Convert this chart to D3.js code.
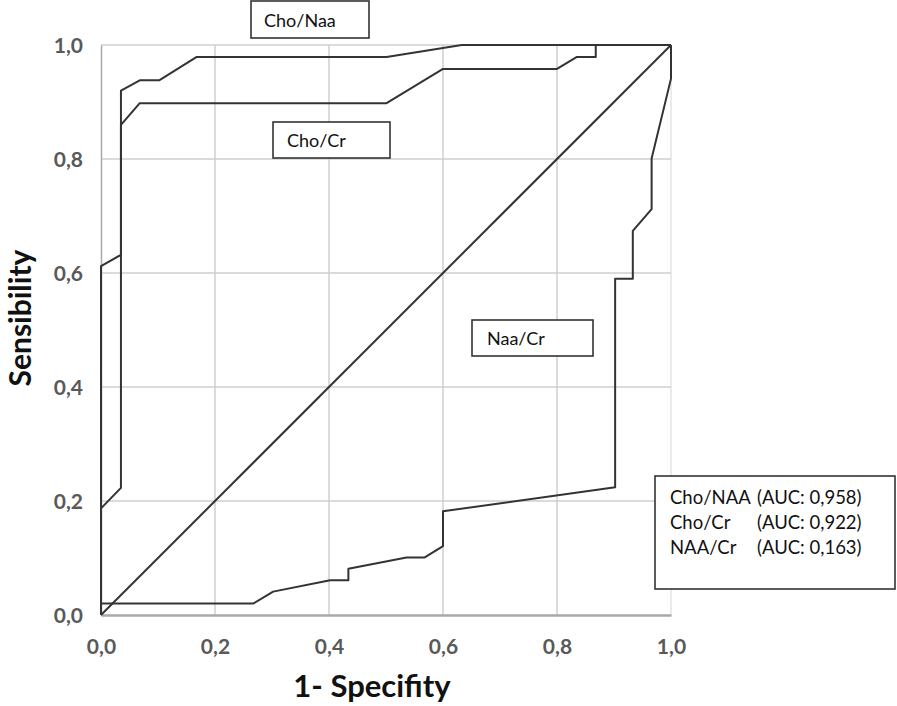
<!DOCTYPE html>
<html>
<head>
<meta charset="utf-8">
<script src="https://cdn.jsdelivr.net/npm/d3@7"></script>
<style>
  html, body { margin: 0; padding: 0; background: #fff; }
  svg { display: block; }
</style>
</head>
<body>
<svg id="chart" width="897" height="706"></svg>
<script>
// ---- Data ----
const xTicks = [0, 0.2, 0.4, 0.6, 0.8, 1.0];
const yTicks = [0, 0.2, 0.4, 0.6, 0.8, 1.0];
const tickLabels = ["0,0", "0,2", "0,4", "0,6", "0,8", "1,0"];

const choNaaX = [0, 0, 0.035, 0.035, 0.068, 0.102, 0.168, 0.501, 0.633, 1];
const choNaaY = [0, 0.612, 0.632, 0.92, 0.938, 0.938, 0.979, 0.979, 1, 1];

const choCrX = [0, 0, 0.035, 0.035, 0.068, 0.501, 0.6, 0.8, 0.835, 0.868, 0.868, 1];
const choCrY = [0, 0.187, 0.223, 0.86, 0.898, 0.898, 0.958, 0.958, 0.979, 0.979, 1, 1];

const naaCrX = [0, 0, 0.267, 0.302, 0.402, 0.434, 0.434, 0.536, 0.568, 0.6, 0.6, 0.902, 0.902, 0.933, 0.933, 0.966, 0.966, 1, 1];
const naaCrY = [0, 0.02, 0.02, 0.041, 0.061, 0.061, 0.081, 0.101, 0.101, 0.121, 0.182, 0.224, 0.59, 0.59, 0.674, 0.712, 0.801, 0.941, 1];

const refX = [0, 1];
const refY = [0, 1];

const legendNames = ["Cho/NAA", "Cho/Cr", "NAA/Cr"];
const legendAUC = ["(AUC: 0,958)", "(AUC: 0,922)", "(AUC: 0,163)"];

// ---- Layout ----
(function () {
const svg = d3.select("#chart");
const mLeft = 101, mRight = 671, mTop = 45, mBottom = 615;
const x = d3.scaleLinear().domain([0, 1]).range([mLeft, mRight]);
const y = d3.scaleLinear().domain([0, 1]).range([mBottom, mTop]);
const font = "Lato, 'Open Sans', sans-serif";

// gridlines
const g = svg.append("g");
g.selectAll("line.vx").data(xTicks.filter(d => d > 0)).enter().append("line")
  .attr("x1", d => x(d)).attr("x2", d => x(d)).attr("y1", y(0)).attr("y2", y(1))
  .attr("stroke", d => d === 1 ? "#e4e4e4" : "#cfcfcf").attr("stroke-width", 1.5);
g.selectAll("line.hy").data(yTicks.filter(d => d > 0)).enter().append("line")
  .attr("x1", x(0)).attr("x2", x(1)).attr("y1", d => y(d)).attr("y2", d => y(d))
  .attr("stroke", "#cfcfcf").attr("stroke-width", 1.5);

// axes
const xAxis = svg.append("g").attr("transform", `translate(0,${mBottom})`)
  .call(d3.axisBottom(x).tickValues(xTicks).tickFormat((d, i) => tickLabels[i]).tickSize(0).tickPadding(24));
const yAxis = svg.append("g").attr("transform", `translate(${mLeft},0)`)
  .call(d3.axisLeft(y).tickValues(yTicks).tickFormat((d, i) => tickLabels[i]).tickSize(0).tickPadding(18));
xAxis.select(".domain").attr("stroke", "#a8a8a8").attr("stroke-width", 2.5);
yAxis.select(".domain").attr("stroke", "#a8a8a8").attr("stroke-width", 1.5);
[xAxis, yAxis].forEach(a => a.selectAll("text")
  .attr("font-family", font).attr("font-size", 21).attr("font-weight", 700).attr("fill", "#595959"));
yAxis.selectAll("text").attr("dy", "0.35em");

// curves
const line = d3.line().x(d => x(d[0])).y(d => y(d[1]));
const series = [
  d3.zip(refX, refY),
  d3.zip(naaCrX, naaCrY),
  d3.zip(choCrX, choCrY),
  d3.zip(choNaaX, choNaaY)
];
svg.append("g").selectAll("path").data(series).enter().append("path")
  .attr("d", line).attr("fill", "none").attr("stroke", "#333")
  .attr("stroke-width", 2).attr("stroke-linejoin", "round");

// annotation boxes
function box(bx, by, bw, bh, label, tx, ty) {
  svg.append("rect").attr("x", bx).attr("y", by).attr("width", bw).attr("height", bh)
    .attr("fill", "#fff").attr("stroke", "#333").attr("stroke-width", 1.6);
  svg.append("text").attr("x", tx).attr("y", ty).attr("dy", "0.35em")
    .attr("font-family", font).attr("font-size", 18).attr("fill", "#111").text(label);
}
box(251, 1, 118, 37, "Cho/Naa", 264, 21);
box(273, 122, 117, 36, "Cho/Cr", 287, 141);
box(472, 320, 121, 36, "Naa/Cr", 487, 339);

// legend
svg.append("rect").attr("x", 655).attr("y", 476).attr("width", 240).attr("height", 113)
  .attr("fill", "#fff").attr("stroke", "#333").attr("stroke-width", 1.6);
const lg = svg.append("g");
legendNames.forEach((n, i) => {
  lg.append("text").attr("x", 670).attr("y", 498 + i * 25).attr("dy", "0.35em")
    .attr("font-family", font).attr("font-size", 18.5).attr("fill", "#111").text(n);
  lg.append("text").attr("x", 757).attr("y", 498 + i * 25).attr("dy", "0.35em")
    .attr("font-family", font).attr("font-size", 18.5).attr("fill", "#111").text(legendAUC[i]);
});

// axis titles
svg.append("text").attr("x", 372).attr("y", 697).attr("text-anchor", "middle")
  .attr("font-family", font).attr("font-size", 31).attr("font-weight", 700).attr("fill", "#111")
  .text("1- Specifity");
svg.append("text").attr("transform", "translate(31,318) rotate(-90)").attr("text-anchor", "middle")
  .attr("font-family", font).attr("font-size", 30).attr("font-weight", 700).attr("fill", "#111")
  .text("Sensibility");
})();
</script>
</body>
</html>
